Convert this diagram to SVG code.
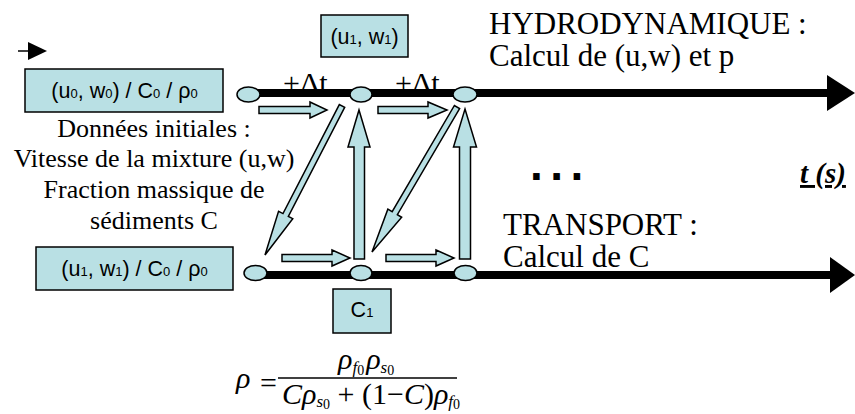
<svg xmlns="http://www.w3.org/2000/svg" width="855" height="414" viewBox="0 0 855 414">
<style>
.box{fill:#b9e0e4;stroke:#000;stroke-width:1.5}
.blk{fill:#b9e0e4;stroke:#000;stroke-width:1.5;stroke-linejoin:miter}
.bt{font-family:"Liberation Sans",Arial,sans-serif;font-size:21.5px;fill:#000}
.sub{font-size:13px}
.ser{font-family:"Liberation Serif","Times New Roman",serif;fill:#000}
.m{font-family:"Liberation Serif","Times New Roman",serif;font-style:italic;font-size:30px;fill:#000}
.ms{font-size:17px}
.mz{font-size:14px;font-style:normal}
.up{font-style:normal}
</style>
<rect width="855" height="414" fill="#fff"/>
<g id="dt-labels">
  <text class="ser" x="283" y="93" font-size="30">+Δt</text>
  <text class="ser" x="395" y="93" font-size="30">+Δt</text>
</g>
<g id="connectors">
  <line x1="18" y1="51" x2="30" y2="51" stroke="#000" stroke-width="1.5"/>
  <polygon points="28,42 47,51 28,60" fill="#000"/>
  <line x1="250" y1="93" x2="830" y2="93" stroke="#000" stroke-width="8"/>
  <polygon points="827,75 855,93 827,111" fill="#000"/>
  <line x1="256" y1="275" x2="832" y2="275" stroke="#000" stroke-width="8"/>
  <polygon points="830,257 855,275 830,293" fill="#000"/>
  <polygon class="blk" points="259,106.5 310,106.5 310,102 327,110 310,118 310,113.5 259,113.5"/>
  <polygon class="blk" points="378,106.5 428,106.5 428,102 447,110 428,118 428,113.5 378,113.5"/>
  <polygon class="blk" points="282,254.5 332,254.5 332,250 350,258 332,266 332,261.5 282,261.5"/>
  <polygon class="blk" points="386,254.5 436,254.5 436,250 454,258 436,266 436,261.5 386,261.5"/>
  <polygon class="blk" points="359,110 370,147 364.5,147 364.5,259 354,259 354,147 348,147"/>
  <polygon class="blk" points="465,109 476.5,147 470.5,147 470.5,259 459.5,259 459.5,147 453.5,147"/>
  <polygon class="blk" points="344.67,107.38 288.33,216.4 292.77,218.7 265,255 278.56,211.3 283,213.6 339.33,104.62"/>
  <polygon class="blk" points="459.59,108.52 397.35,214.7 401.66,217.23 372,252 387.86,209.13 392.17,211.66 454.41,105.48"/>
</g>
<g id="node-t0-top"><ellipse class="box" cx="248.5" cy="94.5" rx="11.5" ry="7.5"/></g>
<g id="node-t1-top"><ellipse class="box" cx="361" cy="94.5" rx="11" ry="7.5"/></g>
<g id="node-t2-top"><ellipse class="box" cx="465" cy="94.5" rx="12" ry="7.5"/></g>
<g id="node-t0-bot"><ellipse class="box" cx="255.5" cy="273" rx="11.5" ry="7.5"/></g>
<g id="node-t1-bot"><ellipse class="box" cx="361" cy="273" rx="11" ry="7.5"/></g>
<g id="node-t2-bot"><ellipse class="box" cx="465.5" cy="273" rx="11.5" ry="7.5"/></g>
<g id="box-init">
  <rect class="box" x="25" y="69" width="198" height="43"/>
  <text class="bt" x="124.5" y="98" text-anchor="middle">(u<tspan class="sub">0</tspan>, w<tspan class="sub">0</tspan>) / C<tspan class="sub">0</tspan> / ρ<tspan class="sub">0</tspan></text>
</g>
<g id="box-u1">
  <rect class="box" x="321" y="15" width="87" height="42"/>
  <text class="bt" x="364.5" y="44" text-anchor="middle">(u<tspan class="sub">1</tspan>, w<tspan class="sub">1</tspan>)</text>
</g>
<g id="box-trans">
  <rect class="box" x="36" y="247" width="197" height="43"/>
  <text class="bt" x="134.5" y="276" text-anchor="middle">(u<tspan class="sub">1</tspan>, w<tspan class="sub">1</tspan>) / C<tspan class="sub">0</tspan> / ρ<tspan class="sub">0</tspan></text>
</g>
<g id="box-c1">
  <rect class="box" x="333" y="289" width="58" height="44"/>
  <text class="bt" x="362" y="317" text-anchor="middle">C<tspan class="sub">1</tspan></text>
</g>
<g id="text-init" class="ser" font-size="26" text-anchor="middle">
  <text x="154" y="137">Données initiales :</text>
  <text x="154" y="167">Vitesse de la mixture (u,w)</text>
  <text x="154" y="198">Fraction massique de</text>
  <text x="154" y="229">sédiments C</text>
</g>
<g id="text-hydro" class="ser" font-size="31">
  <text x="489" y="34">HYDRODYNAMIQUE :</text>
  <text x="489" y="66">Calcul de (u,w) et p</text>
</g>
<g id="text-transport" class="ser" font-size="31">
  <text x="503" y="235">TRANSPORT :</text>
  <text x="503" y="267">Calcul de C</text>
</g>
<g id="dots"><text x="530" y="180" font-family="Liberation Sans, Arial, sans-serif" font-weight="bold" font-size="46" letter-spacing="7.5">...</text></g>
<g id="time-label"><text x="800" y="183" class="ser" font-size="29" font-weight="bold" font-style="italic" text-decoration="underline">t (s)</text></g>
<g id="formula">
  <text class="m" x="236" y="388">ρ</text>
  <text class="m up" x="260" y="393">=</text>
  <text class="m" x="338" y="369">ρ<tspan class="ms" dy="4">f</tspan><tspan class="mz" dy="2">0</tspan><tspan dx="2" dy="-6">ρ</tspan><tspan class="ms" dy="4">s</tspan><tspan class="mz" dy="2">0</tspan></text>
  <line x1="278" y1="378" x2="457" y2="378" stroke="#000" stroke-width="1.5"/>
  <text class="m" x="282" y="404">Cρ<tspan class="ms" dy="3">s</tspan><tspan class="mz" dy="1.5">0</tspan><tspan class="up" dy="-4.5"> + (1</tspan><tspan class="up">−</tspan>C<tspan class="up">)</tspan>ρ<tspan class="ms" dy="3">f</tspan><tspan class="mz" dy="1.5">0</tspan></text>
</g>
</svg>
